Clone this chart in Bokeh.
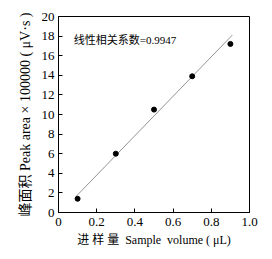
from bokeh.plotting import figure
from bokeh.models import Label, FixedTicker
from bokeh.embed import file_html
from bokeh.resources import INLINE

# data
sample_volume = [0.1, 0.3, 0.5, 0.7, 0.9]
peak_area = [1.4, 6.0, 10.5, 13.9, 17.2]
fit_x = [0.09, 0.91]
fit_y = [1.6, 18.1]
x_ticks = [0, 0.2, 0.4, 0.6, 0.8, 1.0]
x_tick_labels = ["0", "0.2", "0.4", "0.6", "0.8", "1.0"]
y_ticks = [0, 2, 4, 6, 8, 10, 12, 14, 16, 18, 20]
y_tick_labels = [str(v) for v in y_ticks]
annotation = "线性相关系数=0.9947"
x_label = "进 样 量\u00a0\u00a0Sample\u00a0\u00a0volume\u00a0(\u00a0μL)"
y_label = "峰面积 Peak area × 100000 ( μV·s )"

FONT = "Liberation Serif, Noto Sans CJK SC"

p = figure(width=272, height=259, x_range=(0, 1), y_range=(0, 20),
           output_backend="svg", toolbar_location=None,
           min_border_left=58, min_border_right=23,
           min_border_top=16, min_border_bottom=47)

p.background_fill_color = "white"
p.border_fill_color = "white"
p.outline_line_color = "black"
p.outline_line_width = 1
p.grid.visible = False

p.line(fit_x, fit_y, line_color="#777777", line_width=0.8)
p.scatter(sample_volume, peak_area, size=5, color="black")

for ax, ticks, labels in ((p.xaxis[0], x_ticks, x_tick_labels), (p.yaxis[0], y_ticks, y_tick_labels)):
    ax.ticker = FixedTicker(ticks=ticks)
    ax.major_label_overrides = {t: l for t, l in zip(ticks, labels)}
    ax.major_tick_in = 4
    ax.major_tick_out = 0
    ax.minor_tick_line_color = None
    ax.axis_line_color = "black"
    ax.major_tick_line_color = "black"
    ax.major_label_text_font = FONT
    ax.major_label_text_font_size = "13px"
    ax.major_label_text_color = "black"
    ax.axis_label_text_font = FONT
    ax.axis_label_text_font_style = "normal"
    ax.axis_label_text_color = "black"

p.xaxis.axis_label = x_label
p.yaxis.axis_label = y_label
p.xaxis.axis_label_text_font_size = "12px"
p.yaxis.axis_label_text_font_size = "14px"
p.xaxis.major_label_standoff = 5
p.yaxis.major_label_standoff = 4
p.xaxis.axis_label_standoff = 4
p.yaxis.axis_label_standoff = 6

p.add_layout(Label(x=0.08, y=17.6, text=annotation, text_font=FONT,
                   text_font_size="11px", text_baseline="middle", text_color="black"))

open("out.html", "w").write(file_html(p, INLINE))
